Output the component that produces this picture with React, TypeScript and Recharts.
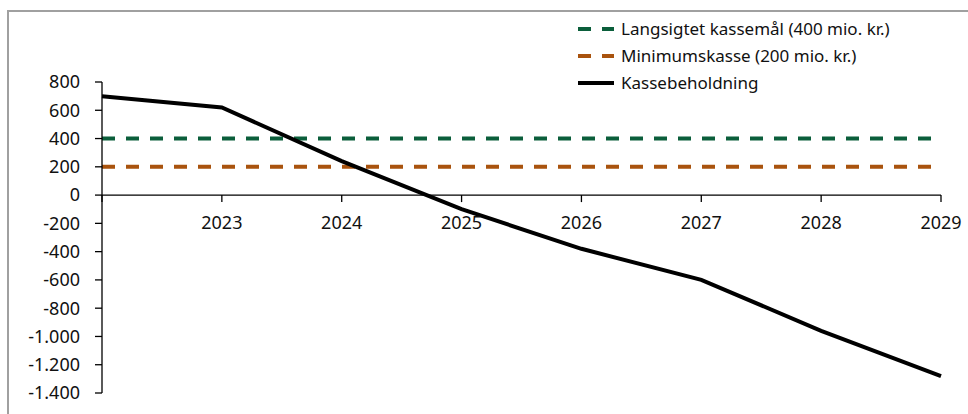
import React from 'react';
import { LineChart, Line, XAxis, YAxis } from 'recharts';

const years = ['2022', '2023', '2024', '2025', '2026', '2027', '2028', '2029'];
const kassebeholdning = [700, 620, 240, -100, -380, -600, -960, -1280];
const langsigtet = [400, 400, 400, 400, 400, 400, 400, 400];
const minimum = [200, 200, 200, 200, 200, 200, 200, 200];
const yTicks = [800, 600, 400, 200, 0, -200, -400, -600, -800, -1000, -1200, -1400];

const data = years.map((year, i) => ({
  year,
  langsigtet: langsigtet[i],
  minimum: minimum[i],
  kasse: kassebeholdning[i],
}));

const W = 968;
const H = 414;
const TOP = 82;
const BOTTOM = 20;
const X_AXIS_H = 1;
const Y_MIN = -1400;
const Y_MAX = 800;
const PLOT_H = H - TOP - BOTTOM - X_AXIS_H;
const ZERO_Y = TOP + (Y_MAX / (Y_MAX - Y_MIN)) * PLOT_H;

const FONT = '"Noto Sans", "Open Sans", sans-serif';
const GREEN = '#0B5E3B';
const ORANGE = '#A9530E';

const fmt = (v: number) => {
  const s = Math.abs(v).toString().replace(/\B(?=(\d{3})+(?!\d))/g, '.');
  return v < 0 ? '-' + s : s;
};

// x-axis sits on the zero line, as in the original
const XTick = (props: any) => {
  const { x, payload, index } = props;
  return (
    <g>
      <line x1={x} x2={x} y1={ZERO_Y} y2={ZERO_Y + 7} stroke="#000" strokeWidth={1.3} />
      {index > 0 && (
        <text x={x} y={ZERO_Y + 27} dy="0.36em" textAnchor="middle" fill="#111" fontSize={18} fontFamily={FONT}>
          {payload.value}
        </text>
      )}
    </g>
  );
};

const legendItems = [
  { label: 'Langsigtet kassemål (400 mio. kr.)', color: GREEN, dash: '13 11' },
  { label: 'Minimumskasse (200 mio. kr.)', color: ORANGE, dash: '13 11' },
  { label: 'Kassebeholdning', color: '#000', dash: undefined },
];

const LegendBox = () => (
  <div style={{ position: 'absolute', left: 577, top: 15, fontFamily: FONT, fontSize: 17, color: '#111' }}>
    {legendItems.map((it) => (
      <div key={it.label} style={{ display: 'flex', alignItems: 'center', height: 27 }}>
        <svg width={38} height={10} style={{ marginRight: 6 }}>
          <line x1={1} x2={37} y1={5} y2={5} stroke={it.color} strokeWidth={4} strokeDasharray={it.dash} />
        </svg>
        <span>{it.label}</span>
      </div>
    ))}
  </div>
);

export default function App() {
  return (
    <div style={{ position: 'absolute', left: 0, top: 0, width: W, height: H, background: '#fff', overflow: 'hidden' }}>
      <div
        style={{
          position: 'absolute',
          left: 7,
          top: 10,
          width: W,
          height: H,
          borderLeft: '2px solid #a0a0a0',
          borderTop: '2px solid #a0a0a0',
        }}
      />
      <div style={{ position: 'absolute', left: 0, top: 0 }}>
        <LineChart width={W} height={H} data={data} margin={{ top: TOP, right: 27, bottom: BOTTOM, left: 0 }}>
          <XAxis
            dataKey="year"
            height={X_AXIS_H}
            axisLine={false}
            tickLine={false}
            tick={<XTick />}
            interval={0}
          />
          <YAxis
            width={102}
            domain={[Y_MIN, Y_MAX]}
            ticks={yTicks}
            interval={0}
            tickFormatter={fmt}
            stroke="#000"
            tickSize={7}
            tickMargin={15}
            tick={{ fill: '#111', fontSize: 18, fontFamily: FONT }}
            axisLine={{ stroke: '#000', strokeWidth: 1.3 }}
            tickLine={{ stroke: '#000', strokeWidth: 1.3 }}
          />
          <Line
            dataKey={() => 0}
            stroke="#000"
            strokeWidth={1.3}
            dot={false}
            isAnimationActive={false}
            legendType="none"
          />
          <Line
            dataKey="langsigtet"
            stroke={GREEN}
            strokeWidth={4}
            strokeDasharray="13 11"
            dot={false}
            isAnimationActive={false}
          />
          <Line
            dataKey="minimum"
            stroke={ORANGE}
            strokeWidth={4}
            strokeDasharray="13 11"
            dot={false}
            isAnimationActive={false}
          />
          <Line
            dataKey="kasse"
            stroke="#000"
            strokeWidth={4}
            dot={false}
            isAnimationActive={false}
          />
        </LineChart>
      </div>
      <LegendBox />
    </div>
  );
}
